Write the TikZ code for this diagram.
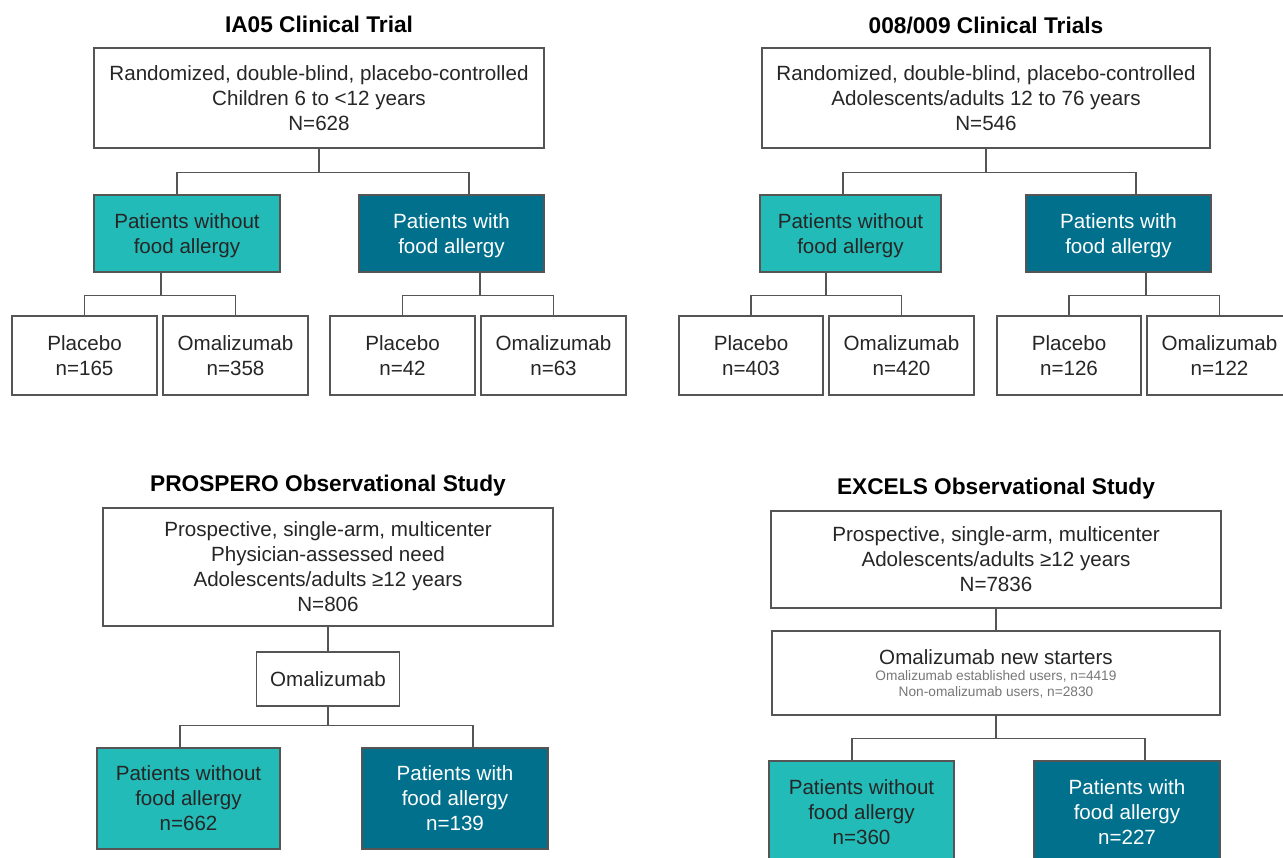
\documentclass[tikz,border=0pt]{standalone}
\usepackage{fontspec}
\setmainfont{Liberation Sans}
\usepackage{tikz}

\definecolor{linegray}{HTML}{555555}
\definecolor{textdark}{HTML}{262626}
\definecolor{smallgray}{HTML}{777777}
\definecolor{nofood}{HTML}{22BBB7}
\definecolor{food}{HTML}{00708C}

\tikzset{
  box/.style={draw=linegray, line width=1.3pt, fill=white, text=textdark, align=center,
    inner sep=0pt, font=\fontsize{20.6}{25}\selectfont, text depth=-0.8pt},
  nofa/.style={box, fill=nofood},
  fa/.style={box, fill=food, text=white},
  studytitle/.style={font=\bfseries\fontsize{22.7}{26}\selectfont, text=black},
  link/.style={draw=linegray, line width=1.3pt},
}

\begin{document}
\begin{tikzpicture}[x=1pt, y=-1pt]
\useasboundingbox (0,0) rectangle (1283,858);
\clip (0,0) rectangle (1283,858);

% IA05
\node[studytitle] (t1) at (319,24) {IA05 Clinical Trial};
\node[box, text depth=-9pt, minimum width=450, minimum height=100] (a1) at (319,98)
  {Randomized, double-blind, placebo-controlled\\Children 6 to <12 years\\N=628};
\node[nofa, text depth=-2.8pt, minimum width=186, minimum height=77] (a2) at (187,233.5) {Patients without\\food allergy};
\node[fa, text depth=-2.8pt, minimum width=185, minimum height=77] (a3) at (451.5,233.5) {Patients with\\food allergy};
\node[box, minimum width=145, minimum height=79] (pa1) at (84.5,355.5) {Placebo\\n=165};
\node[box, minimum width=145, minimum height=79] (oa1) at (235.5,355.5) {Omalizumab\\n=358};
\node[box, minimum width=145, minimum height=79] (pa2) at (402.5,355.5) {Placebo\\n=42};
\node[box, minimum width=145, minimum height=79] (oa2) at (553.5,355.5) {Omalizumab\\n=63};

\draw[link] (a1.south) -- ++(0,24) -| ([xshift=-10pt]a2.north);
\draw[link] (a1.south) ++(0,24) -| ([xshift=17.5pt]a3.north);
\draw[link] ([xshift=-26pt]a2.south) -- ++(0,23) -| (pa1.north);
\draw[link] ([xshift=-26pt]a2.south) ++(0,23) -| (oa1.north);
\draw[link] ([xshift=28.5pt]a3.south) -- ++(0,23) -| (pa2.north);
\draw[link] ([xshift=28.5pt]a3.south) ++(0,23) -| (oa2.north);

% 008/009
\node[studytitle] (t2) at (986,26) {008/009 Clinical Trials};
\node[box, text depth=-9pt, minimum width=448, minimum height=100] (b1) at (986,98)
  {Randomized, double-blind, placebo-controlled\\Adolescents/adults 12 to 76 years\\N=546};
\node[nofa, text depth=-2.8pt, minimum width=181, minimum height=77] (b2) at (850.5,233.5) {Patients without\\food allergy};
\node[fa, text depth=-2.8pt, minimum width=185, minimum height=77] (b3) at (1118.5,233.5) {Patients with\\food allergy};
\node[box, minimum width=144, minimum height=79] (pb1) at (751,355.5) {Placebo\\n=403};
\node[box, minimum width=145, minimum height=79] (ob1) at (901.5,355.5) {Omalizumab\\n=420};
\node[box, minimum width=144, minimum height=79] (pb2) at (1069,355.5) {Placebo\\n=126};
\node[box, minimum width=145, minimum height=79] (ob2) at (1219.5,355.5) {Omalizumab\\n=122};

\draw[link] (b1.south) -- ++(0,24) -| ([xshift=-7.5pt]b2.north);
\draw[link] (b1.south) ++(0,24) -| ([xshift=17.5pt]b3.north);
\draw[link] ([xshift=-24.5pt]b2.south) -- ++(0,23) -| (pb1.north);
\draw[link] ([xshift=-24.5pt]b2.south) ++(0,23) -| (ob1.north);
\draw[link] ([xshift=27.5pt]b3.south) -- ++(0,23) -| (pb2.north);
\draw[link] ([xshift=27.5pt]b3.south) ++(0,23) -| (ob2.north);

% PROSPERO
\node[studytitle] (t3) at (328,486) {PROSPERO Observational Study};
\node[box, text depth=-7pt, minimum width=450, minimum height=118] (c1) at (328,567)
  {Prospective, single-arm, multicenter\\Physician-assessed need\\Adolescents/adults ≥12 years\\N=806};
\node[box, minimum width=143, minimum height=54] (c2) at (328,679) {Omalizumab};
\node[nofa, text depth=-4.8pt, minimum width=183, minimum height=101] (c3) at (188.5,798.5) {Patients without\\food allergy\\n=662};
\node[fa, text depth=-4.8pt, minimum width=186, minimum height=101] (c4) at (455,798.5) {Patients with\\food allergy\\n=139};

\draw[link] (c1.south) -- (c2.north);
\draw[link] (c2.south) -- ++(0,19) -| ([xshift=-8.5pt]c3.north);
\draw[link] (c2.south) ++(0,19) -| ([xshift=18pt]c4.north);

% EXCELS
\node[studytitle] (t4) at (996,489) {EXCELS Observational Study};
\node[box, minimum width=450, minimum height=97] (d1) at (996,559.5)
  {Prospective, single-arm, multicenter\\Adolescents/adults ≥12 years\\N=7836};
\node[box, text depth=0pt, minimum width=448, minimum height=84] (d2) at (996,673)
  {Omalizumab new starters\\[-9pt]
   {\fontsize{13.7}{16}\selectfont\color{smallgray}Omalizumab established users, n=4419}\\[-9pt]
   {\fontsize{13.7}{16}\selectfont\color{smallgray}Non-omalizumab users, n=2830}};
\node[nofa, minimum width=185, minimum height=102] (d3) at (861.5,812) {Patients without\\food allergy\\n=360};
\node[fa, minimum width=186, minimum height=102] (d4) at (1127,812) {Patients with\\food allergy\\n=227};

\draw[link] (d1.south) -- (d2.north);
\draw[link] (d2.south) -- ++(0,23) -| ([xshift=-9.5pt]d3.north);
\draw[link] (d2.south) ++(0,23) -| ([xshift=18pt]d4.north);

\end{tikzpicture}
\end{document}
